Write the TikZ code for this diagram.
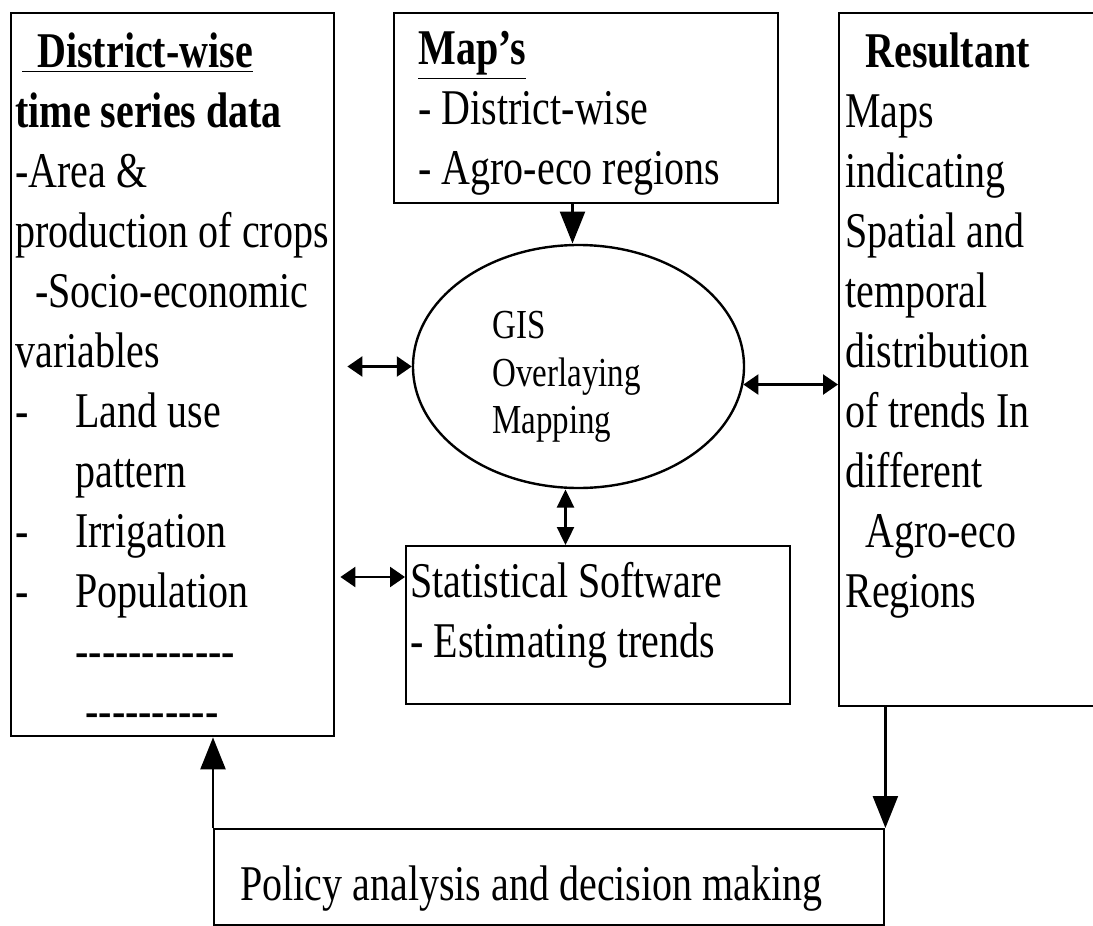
\documentclass[tikz,border=0pt]{standalone}
\usepackage{fontspec}
\setmainfont{Liberation Serif}
\usetikzlibrary{shapes.geometric,arrows.meta,positioning}
\newcommand{\hy}{\hbox{-}}
\tikzset{
  box/.style={draw, line width=1.2pt, anchor=north west, inner sep=0pt},
  body/.style={anchor=north west, inner sep=0pt, align=left, yscale=1.25,
    font=\fontsize{20}{24}\selectfont},
  oval/.style={ellipse, draw, line width=1.2pt, yscale=1.25, inner sep=0pt,
    minimum width=165.5pt, minimum height=97.2pt, align=left,
    font=\fontsize{16.5}{19}\selectfont},
  link/.style={line width=1.2pt,
    {Triangle[length=7.5pt,width=10pt]}-{Triangle[length=7.5pt,width=10pt]}},
  vlink/.style={line width=1.2pt,
    {Triangle[length=9pt,width=8.5pt]}-{Triangle[length=9pt,width=8.5pt]}},
  feed/.style={line width=1.2pt, -{Triangle[length=16pt,width=12.5pt]}}
}

\begin{document}
\begin{tikzpicture}[x=0.5pt,y=-0.5pt]
  \useasboundingbox (0,0) rectangle (1093,926);
  % boxes
  \node[box, minimum width=161.5pt, minimum height=361.5pt] (data) at (10,12) {};
  \node[box, minimum width=192pt, minimum height=95pt] (maps) at (393,12) {};
  \node[box, minimum width=140pt, minimum height=346.5pt] (result) at (838,12) {};
  \node[box, minimum width=192pt, minimum height=79pt] (stats) at (405,545) {};
  \node[box, minimum width=335pt, minimum height=48pt] (policy) at (213,828) {};
  \node[oval] (gis) at (578.5,366.5) {\rule{0pt}{19.5pt}GIS\\Overlaying\rule{12pt}{0pt}\\Mapping};

  % texts
  \node[body] (datatxt) at (15,32) {\hspace*{3.5pt}\textbf{\underline{\hspace{7.5pt}District-wise}}\\
    \textbf{time series data}\\
    -Area \&\\
    production of crops\\
    \hspace*{10pt}-Socio-economic\\
    variables\\
    \makebox[30pt][l]{-}Land use\\
    \hspace*{30pt}pattern\\
    \makebox[30pt][l]{-}Irrigation\\
    \makebox[30pt][l]{-}Population\\
    \hspace*{30pt}\hy\hy\hy\hy\hy\hy\hy\hy\hy\hy\hy\hy\\
    \hspace*{35pt}\hy\hy\hy\hy\hy\hy\hy\hy\hy\hy};
  \node[body] (mapstxt) at (418,31) {\textbf{\underline{Map’s}}\\
    - District-wise\\
    - Agro-eco regions};
  \node[body] (resulttxt) at (845,32) {\hspace*{10pt}\textbf{Resultant}\\
    Maps\\
    indicating\\
    Spatial and\\
    temporal\\
    distribution\\
    of trends In\\
    different\\
    \hspace*{10pt}Agro-eco\\
    Regions};
  \node[body] (statstxt) at (410,562) {Statistical Software\\
    - Estimating trends};
  \node[body] (policytxt) at (240,865) {Policy analysis and decision making};

  % connectors
  \coordinate (sl) at ([yshift=-16pt]stats.north west);
  \coordinate (gb) at ([xshift=-6.5pt]gis.south);
  \coordinate (gt) at ([xshift=-3pt]gis.north);
  \draw[link, shorten <=6pt] (gis.west -| data.east) -- (gis.west);
  \draw[link, shorten <=2.5pt] (sl -| data.east) -- (sl);
  \draw[link] (gis.-5) -- (gis.-5 -| result.west);
  \draw[vlink] (gb) -- (gb |- stats.north);
  \draw[feed] (gt |- maps.south) -- (gt);
  \draw[feed] (policy.north east |- result.south) -- (policy.north east);
  \draw[feed] (policy.north west) -- (policy.north west |- data.south);
\end{tikzpicture}
\end{document}
